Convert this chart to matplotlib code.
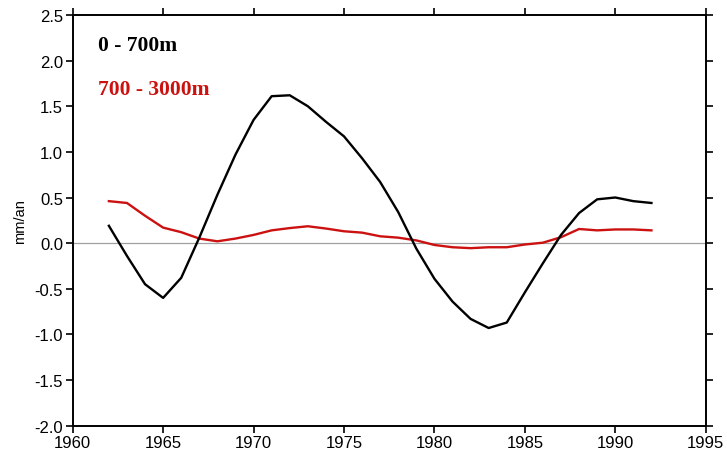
import matplotlib
matplotlib.use("Agg")
import matplotlib.pyplot as plt

years = list(range(1962, 1993))
upper = [0.19, -0.14, -0.45, -0.60, -0.38, 0.06, 0.53, 0.97, 1.35, 1.61, 1.62, 1.50, 1.33, 1.17, 0.93, 0.67, 0.34,
         -0.06, -0.39, -0.64, -0.83, -0.93, -0.87, -0.54, -0.22, 0.09, 0.33, 0.48, 0.50, 0.46, 0.44]
deep = [0.46, 0.44, 0.30, 0.17, 0.12, 0.05, 0.02, 0.05, 0.09, 0.14, 0.165, 0.185, 0.16, 0.13, 0.115, 0.075, 0.06,
        0.03, -0.02, -0.045, -0.055, -0.045, -0.045, -0.015, 0.005, 0.065, 0.155, 0.14, 0.15, 0.15, 0.14]
label_upper = "0 - 700m"
label_deep = "700 - 3000m"
xticks = [1960, 1965, 1970, 1975, 1980, 1985, 1990, 1995]
yticks = [-2.0, -1.5, -1.0, -0.5, 0.0, 0.5, 1.0, 1.5, 2.0, 2.5]

fig = plt.figure(figsize=(7.27, 4.56), dpi=100)
ax = fig.add_axes([0.1, 0.0643, 0.8707, 0.9007])
ax.axhline(0, color="#a0a0a0", lw=0.9, zorder=1)
ax.plot(years, upper, color="black", lw=1.7, zorder=3)
ax.plot(years, deep, color="#cc1111", lw=1.7, zorder=2)
ax.set_xlim(1960, 1995)
ax.set_ylim(-2.0, 2.5)
ax.set_xticks(xticks)
ax.set_yticks(yticks)
ax.set_yticklabels([f"{v:.1f}" for v in yticks])
ax.tick_params(direction="out", length=5, width=1.2, labelsize=12, top=True, right=True,
               labeltop=False, labelright=False, pad=2)
for lab in ax.get_xticklabels() + ax.get_yticklabels():
    lab.set_family("Liberation Sans")
for s in ax.spines.values():
    s.set_linewidth(1.4)
ax.set_ylabel("mm/an", fontsize=10.5, family="Liberation Sans", labelpad=5)
ax.text(0.0395, 0.926, label_upper, transform=ax.transAxes, fontsize=15.5, fontweight="bold",
        family="Liberation Serif", color="black", va="center")
ax.text(0.0395, 0.820, label_deep, transform=ax.transAxes, fontsize=15.5, fontweight="bold",
        family="Liberation Serif", color="#cc1111", va="center")
fig.savefig("out.png", dpi=100)
